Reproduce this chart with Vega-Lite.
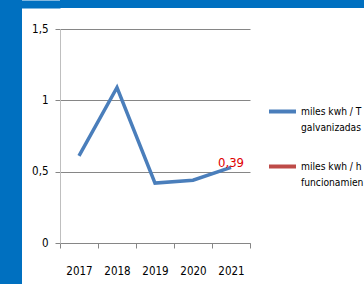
{
  "$schema": "https://vega.github.io/schema/vega-lite/v6.json",
  "background": "white",
  "padding": 0,
  "config": {
    "view": {"stroke": null},
    "font": "DejaVu Sans Condensed",
    "axis": {"labelFont": "DejaVu Sans Condensed", "labelColor": "#000000", "labelFontSize": 11.5},
    "legend": {"labelFont": "DejaVu Sans Condensed", "labelColor": "#000000", "labelFontSize": 10.2},
    "style": {"guide-label": {"lineHeight": 16}}
  },
  "spacing": 38,
  "bounds": "flush",
  "hconcat": [
    {
      "width": 22,
      "height": 284,
      "view": {"fill": "#0070C0", "stroke": null},
      "data": {"values": []},
      "mark": "rect",
      "encoding": {}
    },
    {
      "spacing": 21,
      "bounds": "flush",
      "vconcat": [
        {
          "width": 304,
          "height": 8,
          "view": {"fill": "#0070C0", "stroke": null},
          "data": {"values": [{}]},
          "mark": {"type": "point", "opacity": 0},
          "encoding": {
            "y": {
              "datum": 0,
              "type": "quantitative",
              "scale": {"domain": [-1, 1]},
              "axis": {
                "title": null,
                "values": [0],
                "labels": false,
                "domain": false,
                "grid": false,
                "tickSize": 40,
                "tickWidth": 8,
                "tickColor": "#0070C0"
              }
            }
          }
        },
        {
          "width": 190,
          "height": 214,
          "data": {
            "values": [
              {"series": "miles kwh / T galvanizadas", "year": "2017", "value": 0.61},
              {"series": "miles kwh / T galvanizadas", "year": "2018", "value": 1.09},
              {"series": "miles kwh / T galvanizadas", "year": "2019", "value": 0.42},
              {"series": "miles kwh / T galvanizadas", "year": "2020", "value": 0.44},
              {"series": "miles kwh / T galvanizadas", "year": "2021", "value": 0.53},
              {"series": "miles kwh / h funcionamien", "year": "2021", "value": 0.39, "label": "0,39"}
            ]
          },
          "encoding": {
            "x": {
              "field": "year",
              "type": "ordinal",
              "scale": {"type": "band", "paddingInner": 0, "paddingOuter": 0},
              "axis": {
                "title": null,
                "labelAngle": 0,
                "tickBand": "extent",
                "grid": false,
                "domainColor": "#868686",
                "tickColor": "#868686",
                "tickSize": 5,
                "labelPadding": 17
              }
            },
            "y": {
              "field": "value",
              "type": "quantitative",
              "scale": {"domain": [0, 1.5], "nice": false},
              "axis": {
                "title": null,
                "values": [0, 0.5, 1, 1.5],
                "format": ".1~f",
                "labelExpr": "replace(datum.label, '.', ',')",
                "grid": true,
                "gridColor": "#868686",
                "domainColor": "#bfbfbf",
                "tickColor": "#868686",
                "tickSize": 5,
                "labelPadding": 7
              }
            }
          },
          "layer": [
            {
              "mark": {"type": "line", "strokeWidth": 3.5},
              "encoding": {
                "color": {
                  "field": "series",
                  "type": "nominal",
                  "scale": {
                    "domain": ["miles kwh / T galvanizadas", "miles kwh / h funcionamien"],
                    "range": ["#4a7ebb", "#be4b48"]
                  },
                  "legend": {
                    "orient": "none",
                    "legendX": 267,
                    "legendY": 96,
                    "title": null,
                    "padding": 0,
                    "symbolType": "stroke",
                    "symbolStrokeWidth": 4,
                    "symbolSize": 729,
                    "labelOffset": 3,
                    "rowPadding": 18,
                    "labelExpr": "datum.label == 'miles kwh / T galvanizadas' ? ['miles kwh / T', 'galvanizadas'] : ['miles kwh / h', 'funcionamien']"
                  }
                }
              }
            },
            {
              "transform": [{"filter": {"field": "series", "equal": "miles kwh / h funcionamien"}}],
              "mark": {"type": "text", "dy": -24, "fontSize": 13, "color": "#e00000", "font": "DejaVu Sans Condensed"},
              "encoding": {"text": {"field": "label"}}
            }
          ]
        }
      ]
    }
  ]
}
